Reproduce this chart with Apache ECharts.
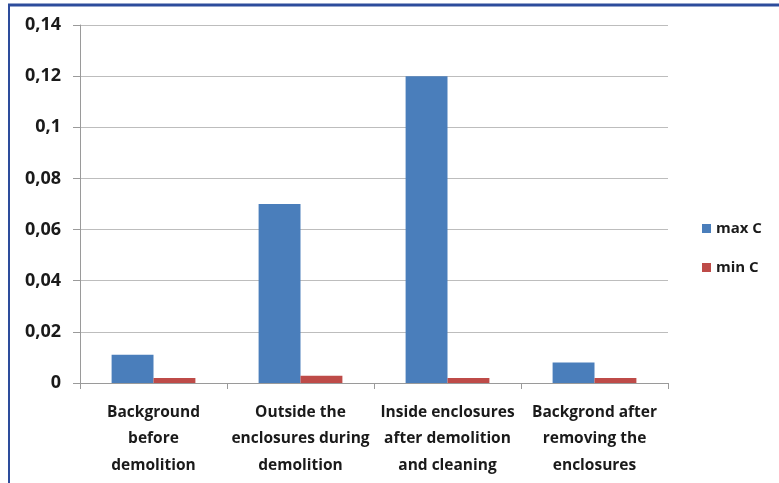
<!DOCTYPE html>
<html>
<head>
<meta charset="utf-8">
<script src="https://cdn.jsdelivr.net/npm/echarts@6/dist/echarts.min.js"></script>
<style>
  html, body { margin: 0; padding: 0; background: #ffffff; }
  #chart { width: 779px; height: 483px; }
</style>
</head>
<body>
<div id="chart"></div>
<script>
// Sampling locations (x axis)
const categories = [
  'Background\nbefore\ndemolition',
  'Outside the\nenclosures during\ndemolition',
  'Inside enclosures\nafter demolition\nand cleaning',
  'Backgrond after\nremoving the\nenclosures'
];
// Measured concentrations
const maxC = [0.011, 0.07, 0.12, 0.008];
const minC = [0.002, 0.0028, 0.002, 0.002];
// Value axis ticks
const yTicks = [0, 0.02, 0.04, 0.06, 0.08, 0.1, 0.12, 0.14];

const labelFont = 'Open Sans, Liberation Sans, sans-serif';
const chart = echarts.init(document.getElementById('chart'));

chart.setOption({
  backgroundColor: '#ffffff',
  animation: false,
  grid: { left: 80, right: 111, top: 25, bottom: 100, containLabel: false },
  legend: {
    orient: 'vertical',
    left: 697,
    top: 216,
    itemWidth: 9,
    itemHeight: 9,
    itemGap: 24,
    icon: 'rect',
    textStyle: { fontFamily: labelFont, fontSize: 15, fontWeight: 'bold', color: '#1a1a1a' },
    data: ['max C', 'min C']
  },
  xAxis: {
    type: 'category',
    data: categories,
    axisLine: { lineStyle: { color: '#9a9a9a', width: 1 } },
    axisTick: { show: true, alignWithLabel: false, length: 6, lineStyle: { color: '#9a9a9a' } },
    axisLabel: {
      interval: 0,
      margin: 16,
      fontFamily: labelFont,
      fontSize: 15.5,
      fontWeight: 'bold',
      lineHeight: 26.5,
      color: '#1a1a1a'
    }
  },
  yAxis: {
    type: 'value',
    min: yTicks[0],
    max: yTicks[yTicks.length - 1],
    interval: 0.02,
    axisLine: { show: true, lineStyle: { color: '#9a9a9a' } },
    axisTick: { show: true, length: 7, lineStyle: { color: '#9a9a9a' } },
    splitLine: { show: true, lineStyle: { color: '#bdbdbd', width: 1 } },
    axisLabel: {
      margin: 19,
      fontFamily: labelFont,
      fontSize: 18,
      fontWeight: 'bold',
      color: '#1a1a1a',
      formatter: function (v) {
        const t = yTicks.find(function (x) { return Math.abs(x - v) < 1e-9; });
        if (t === undefined) return '';
        return t === 0 ? '0' : String(+t.toFixed(2)).replace('.', ',');
      }
    }
  },
  series: [
    {
      name: 'max C',
      type: 'bar',
      data: maxC,
      barGap: '0%',
      barCategoryGap: '43%',
      itemStyle: { color: '#4a7ebb' }
    },
    {
      name: 'min C',
      type: 'bar',
      data: minC,
      itemStyle: { color: '#be4b48' }
    }
  ],
  graphic: [
    { type: 'line', shape: { x1: 8, y1: 5, x2: 779, y2: 5 }, style: { stroke: '#2d4c9c', lineWidth: 3 } },
    { type: 'line', shape: { x1: 9, y1: 4, x2: 9, y2: 483 }, style: { stroke: '#2d4c9c', lineWidth: 2 } }
  ]
});
</script>
</body>
</html>
